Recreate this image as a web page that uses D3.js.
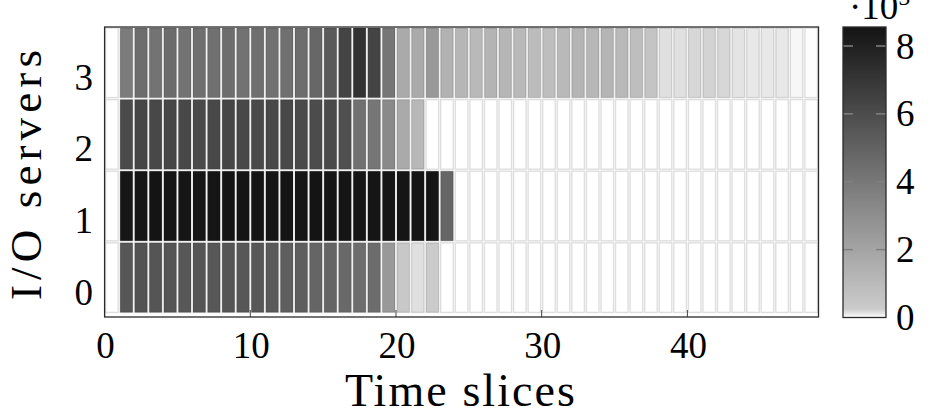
<!DOCTYPE html>
<html>
<head>
<meta charset="utf-8">
<script src="https://cdn.jsdelivr.net/npm/d3@7"></script>
<style>
  html, body { margin: 0; padding: 0; background: #fff; }
  svg { display: block; font-family: "Liberation Serif", "DejaVu Serif", serif; }
</style>
</head>
<body>
<svg id="chart" width="936" height="418"></svg>
<script>
// I/O server load per time slice, values in units of 10^5
const servers = [0, 1, 2, 3];
const xTicks = [0, 10, 20, 30, 40];
const colorTicks = [0, 2, 4, 6, 8];

const server0 = [0, 5.5, 5.7, 5.6, 5.6, 5.5, 5.6, 5.5, 5.6, 5.5, 5.5, 5.4, 5.2, 5.2, 4.9, 4.9, 4.7, 4.5, 4.55, 2.5,
  0.4, 0.15, 0.25, 0, 0, 0, 0, 0, 0, 0, 0, 0, 0, 0, 0, 0, 0, 0, 0, 0, 0, 0, 0, 0, 0, 0, 0, 0, 0];
const server1 = [0, 8.45, 8.5, 8.55, 8.5, 8.5, 8.45, 8.5, 8.55, 8.5, 8.5, 8.45, 8.5, 8.5, 8.55, 8.5, 8.5, 8.45, 8.5, 8.5,
  8.5, 8.45, 8.5, 4.85, 0, 0, 0, 0, 0, 0, 0, 0, 0, 0, 0, 0, 0, 0, 0, 0, 0, 0, 0, 0, 0, 0, 0, 0, 0];
const server2 = [0, 6.1, 6.3, 6.2, 6.3, 6.2, 6.1, 6.2, 6.3, 6.2, 6.1, 6.2, 6.2, 6.1, 6.0, 6.1, 5.9, 4.4, 4.1, 3.2,
  1.75, 1.1, 0, 0, 0, 0, 0, 0, 0, 0, 0, 0, 0, 0, 0, 0, 0, 0, 0, 0, 0, 0, 0, 0, 0, 0, 0, 0, 0];
const server3 = [0, 3.9, 4.5, 4.25, 4.55, 4.25, 4.45, 4.4, 4.5, 4.3, 4.45, 4.35, 4.4, 4.5, 4.8, 5.4, 6.4, 7.2, 6.4, 4.1,
  1.75, 1.75, 2.5, 1.4, 1.2, 1.05, 1.3, 1.2, 1.05, 0.95, 0.85, 1.05, 1.3, 1.15, 1.25, 1.05, 0.85, 0.55, 0.15, 0.15,
  0.19, 0.21, 0.19, 0.13, 0.11, 0.11, 0.11, 0.04, 0.01];

const rows = [server0, server1, server2, server3];
const colorMax = 8.56;

const svg = d3.select("#chart");

// scales
const x = d3.scaleLinear().domain([0, 49]).range([104.6, 818.5]);
const y = d3.scaleLinear().domain([-0.35, 3.7]).range([317, 27]);
const color = d3.scaleLinear()
  .domain([0, 0.25, colorMax])
  .range(["#ffffff", "#cbcbcb", "#141414"]);

// frame background
svg.append("rect")
  .attr("x", x(0)).attr("y", y(3.7))
  .attr("width", x(49) - x(0)).attr("height", y(-0.35) - y(3.7))
  .attr("fill", "#fff");

// x ticks (drawn under the cells, visible only below them)
svg.append("g").selectAll("line")
  .data(xTicks)
  .join("line")
  .attr("x1", d => x(d)).attr("x2", d => x(d))
  .attr("y1", y(-0.35)).attr("y2", y(-0.35) - 7)
  .attr("stroke", "#444").attr("stroke-width", 1);

// cells
const cells = [];
rows.forEach((vals, r) => {
  vals.forEach((v, i) => cells.push({ server: servers[r], slice: i, value: v }));
});

const inset = 1;
svg.append("g").selectAll("rect")
  .data(cells)
  .join("rect")
  .attr("x", d => x(d.slice) + inset)
  .attr("y", d => y(d.server + 0.7) + inset)
  .attr("width", d => x(d.slice + 1) - x(d.slice) - 2 * inset)
  .attr("height", d => y(d.server - 0.3) - y(d.server + 0.7) - 2 * inset)
  .attr("fill", d => color(d.value))
  .attr("stroke", "rgba(0,0,0,0.13)")
  .attr("stroke-width", 1.4);

// frame
svg.append("rect")
  .attr("x", x(0)).attr("y", y(3.7))
  .attr("width", x(49) - x(0)).attr("height", y(-0.35) - y(3.7))
  .attr("fill", "none")
  .attr("stroke", "#2a2a2a").attr("stroke-width", 1.3);

// x tick labels
svg.append("g").selectAll("text")
  .data(xTicks)
  .join("text")
  .attr("x", d => x(d) + 1)
  .attr("y", 358)
  .attr("text-anchor", "middle")
  .attr("font-size", 37)
  .text(d => d);

// y tick labels
svg.append("g").selectAll("text")
  .data(servers)
  .join("text")
  .attr("x", 93)
  .attr("y", d => y(d))
  .attr("dy", "0.34em")
  .attr("text-anchor", "end")
  .attr("font-size", 37)
  .text(d => d);

// axis titles
svg.append("text")
  .attr("x", 460).attr("y", 406)
  .attr("text-anchor", "middle")
  .attr("font-size", 46)
  .attr("textLength", 230).attr("lengthAdjust", "spacing")
  .text("Time slices");

svg.append("text")
  .attr("transform", "translate(41,175) rotate(-90)")
  .attr("text-anchor", "middle")
  .attr("font-size", 45)
  .attr("textLength", 250).attr("lengthAdjust", "spacing")
  .text("I/O servers");

// colorbar
const cb = { x: 843, w: 43 };
const cy = d3.scaleLinear().domain([0, colorMax]).range([317.5, 27]);

const grad = svg.append("defs").append("linearGradient")
  .attr("id", "cbar")
  .attr("x1", 0).attr("y1", 1).attr("x2", 0).attr("y2", 0);
const stops = [0, 0.1, 0.25].concat(d3.range(1, 9)).concat([colorMax]);
grad.selectAll("stop")
  .data(stops)
  .join("stop")
  .attr("offset", d => d / colorMax)
  .attr("stop-color", d => color(d));

svg.append("rect")
  .attr("x", cb.x).attr("y", cy(colorMax))
  .attr("width", cb.w).attr("height", cy(0) - cy(colorMax))
  .attr("fill", "url(#cbar)");

const cbTicks = svg.append("g");
colorTicks.filter(d => d > 0).forEach(d => {
  cbTicks.append("line")
    .attr("x1", cb.x).attr("x2", cb.x + 10)
    .attr("y1", cy(d)).attr("y2", cy(d))
    .attr("stroke", "#808080").attr("stroke-width", 1.5);
  cbTicks.append("line")
    .attr("x1", cb.x + cb.w - 10).attr("x2", cb.x + cb.w)
    .attr("y1", cy(d)).attr("y2", cy(d))
    .attr("stroke", "#808080").attr("stroke-width", 1.5);
});

svg.append("rect")
  .attr("x", cb.x).attr("y", cy(colorMax))
  .attr("width", cb.w).attr("height", cy(0) - cy(colorMax))
  .attr("fill", "none")
  .attr("stroke", "#2a2a2a").attr("stroke-width", 1.3);

svg.append("g").selectAll("text")
  .data(colorTicks)
  .join("text")
  .attr("x", 896)
  .attr("y", d => cy(d))
  .attr("dy", "0.34em")
  .attr("font-size", 37)
  .text(d => d);

// exponent label, clipped by the top of the picture as in the original
const expo = svg.append("text")
  .attr("x", 849).attr("y", 19)
  .attr("font-size", 37);
expo.append("tspan").text("\u00b710");
expo.append("tspan").attr("font-size", 24).attr("dy", -14).text("5");
</script>
</body>
</html>
